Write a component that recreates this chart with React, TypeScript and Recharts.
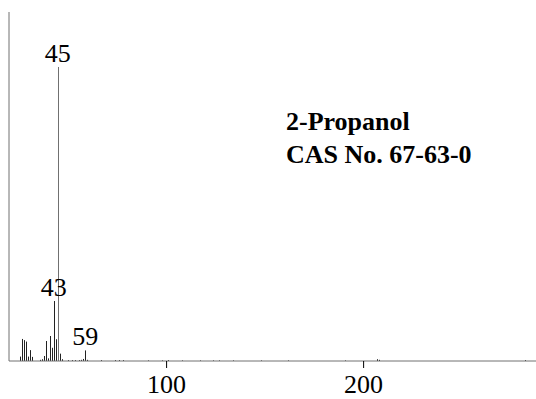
import { ComposedChart, Bar, XAxis, YAxis, ReferenceLine, LabelList } from 'recharts';

// m/z values and relative intensities (% of base peak)
const mz = [26, 27, 28, 29, 30, 31, 32, 36, 37, 38, 39, 40, 41, 42, 43, 44, 45, 46, 47, 50, 52, 54, 56, 57, 58, 59, 60, 67, 74, 76, 78, 91, 98, 101, 108, 117, 124, 127, 134, 148, 162, 191, 207, 208, 282];
const intensity = [1.5, 7.5, 7.1, 6.6, 1.5, 3.7, 1.4, 0.4, 0.6, 1.7, 6.8, 0.9, 8.5, 4.5, 20.4, 7.4, 100, 2.5, 0.6, 0.3, 0.3, 0.3, 0.3, 0.4, 0.7, 3.6, 0.4, 0.3, 0.3, 0.3, 0.3, 0.2, 0.2, 0.3, 0.2, 0.2, 0.2, 0.2, 0.2, 0.2, 0.2, 0.2, 0.6, 0.4, 0.3];
const labeledPeaks = [43, 45, 59];
const xTicks = [100, 200];
const compoundName = '2-Propanol';
const casNumber = 'CAS No. 67-63-0';

const data = mz.map((m, i) => ({
  mz: m,
  intensity: intensity[i],
  label: labeledPeaks.includes(m) ? String(m) : '',
}));

const serif = '"Liberation Serif", "Times New Roman", serif';

// thin stick for each peak; the base peak reads lighter in the original
const Stick = (props: any) => {
  const { x, y, width, height, payload } = props;
  if (height <= 0) return null;
  const cx = Math.round(x + width / 2);
  const fill = payload && payload.intensity > 50 ? '#707070' : '#222';
  return <rect x={cx} y={y} width={1} height={height} fill={fill} />;
};

const PeakLabel = (props: any) => {
  const { x, y, width, value } = props;
  if (!value) return null;
  return (
    <text x={x + width / 2} y={y - 5} textAnchor="middle" fontFamily={serif} fontSize={26} fill="#000">
      {value}
    </text>
  );
};

export default function App() {
  return (
    <div style={{ position: 'absolute', left: 0, top: 0, width: 536, height: 399, background: '#fff' }}>
      <ComposedChart width={536} height={399} data={data} margin={{ top: 12, right: 0, bottom: 0, left: 9 }}>
        <XAxis
          dataKey="mz"
          type="number"
          domain={[20, 287.5]}
          ticks={xTicks}
          allowDataOverflow
          height={38}
          tickSize={7}
          tickMargin={7}
          axisLine={{ stroke: '#707070' }}
          tickLine={{ stroke: '#000' }}
          tick={{ fontFamily: serif, fontSize: 26, fill: '#000' }}
        />
        <YAxis hide domain={[0, 118.7]} allowDataOverflow />
        <ReferenceLine x={20} stroke="#707070" />
        <Bar dataKey="intensity" barSize={1} shape={<Stick />} isAnimationActive={false}>
          <LabelList dataKey="label" content={<PeakLabel />} />
        </Bar>
      </ComposedChart>
      <div
        style={{
          position: 'absolute',
          left: 286,
          top: 105,
          fontFamily: serif,
          fontWeight: 'bold',
          fontSize: 26,
          lineHeight: '33px',
          color: '#000',
          whiteSpace: 'nowrap',
        }}
      >
        <div>{compoundName}</div>
        <div>{casNumber}</div>
      </div>
    </div>
  );
}
